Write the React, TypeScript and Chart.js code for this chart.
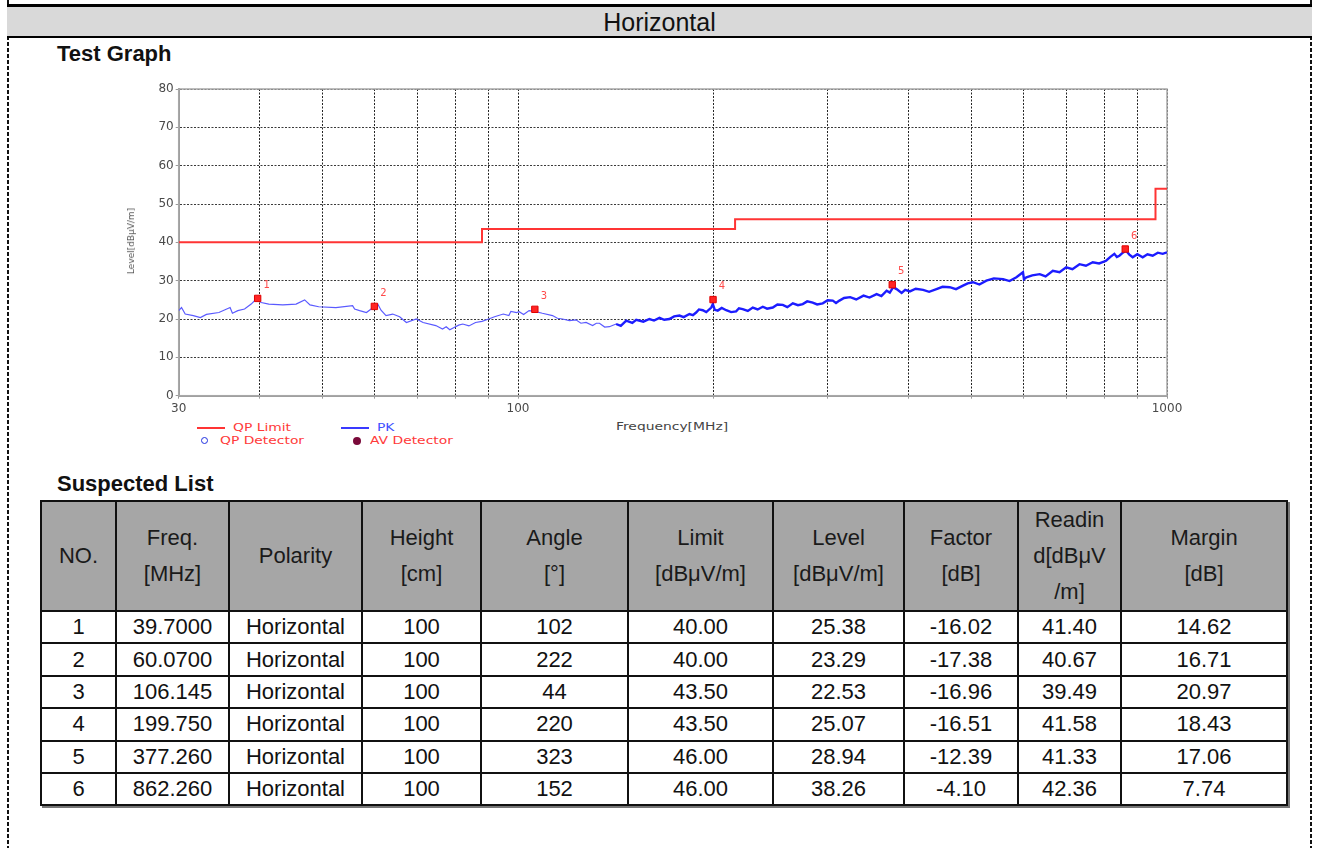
import React, { useEffect, useRef } from 'react';
import { Chart, registerables } from 'chart.js';

Chart.register(...registerables);

// ---------- chart data ----------
const pkFreq = [
  30.0, 30.3, 30.7, 31.6, 32.4, 33.1, 34.6, 36.0, 36.3, 37.0, 37.9, 38.8, 39.5, 40.2, 41.3, 43.4, 45.5, 46.9, 47.8, 49.3,
  52.4, 55.6, 56.0, 57.0, 58.4, 59.8, 60.8, 61.5, 62.6, 64.1, 65.7, 67.3, 69.7, 71.4, 74.7, 76.5, 77.5, 78.5, 79.7, 81.0,
  82.2, 84.0, 86.0, 88.0, 90.1, 92.0, 94.9, 96.8, 97.5, 99.5, 100.4, 102.0, 104.0, 106.1, 109.0, 113.0, 115.0, 117.1, 120.0, 122.8,
  125.0, 127.3, 130.3, 132.0, 133.5, 136.0, 138.3, 141.6, 144.0, 146.8, 150.0, 152.1, 156.0, 159.4, 162.0, 165.2, 168.0, 171.1, 174.0, 177.3,
  180.0, 183.7, 186.0, 188.1, 190.0, 192.6, 195.0, 198.5, 199.6, 201.0, 203.1, 206.0, 209.3, 213.0, 216.8, 219.0, 221.9, 226.0, 230.0, 234.0,
  238.3, 242.0, 246.9, 251.0, 255.8, 260.0, 265.1, 270.0, 274.6, 279.0, 284.5, 289.0, 294.8, 300.0, 305.5, 309.0, 312.8, 318.0, 324.9, 332.0,
  340.7, 348.0, 356.9, 363.0, 369.8, 374.0, 378.6, 383.1, 390.0, 395.0, 401.6, 410.0, 420.9, 430.0, 441.3, 451.0, 462.6, 473.0, 484.9, 493.0,
  502.4, 514.0, 526.8, 541.0, 559.0, 572.0, 586.1, 599.9, 602.0, 607.2, 620.0, 636.6, 650.0, 666.9, 683.0, 699.3, 715.0, 733.1, 750.0, 768.4,
  786.0, 805.6, 818.0, 829.7, 837.0, 844.6, 855.0, 864.9, 875.0, 885.4, 900.0, 917.4, 933.0, 950.5, 968.0, 985.0, 1000.0,
];
const pkLevel = [
  22.2, 23.0, 21.3, 20.9, 20.4, 21.2, 21.7, 23.0, 21.5, 22.2, 22.6, 23.9, 25.2, 24.3, 23.9, 23.7, 23.9, 25.0, 23.7, 23.2,
  23.0, 23.5, 22.6, 22.2, 21.7, 23.0, 23.9, 22.3, 20.9, 21.3, 20.6, 19.1, 20.0, 19.1, 18.3, 17.4, 18.0, 17.2, 17.8, 18.4,
  18.7, 18.2, 19.1, 19.4, 20.0, 20.6, 21.3, 20.9, 22.0, 21.7, 21.9, 21.2, 22.2, 22.0, 21.5, 20.9, 20.2, 20.0, 19.6, 19.8,
  18.9, 19.1, 18.3, 18.9, 18.9, 17.9, 18.0, 18.7, 18.2, 19.6, 19.0, 19.8, 19.3, 20.0, 19.6, 20.3, 19.8, 20.0, 20.7, 20.9,
  20.5, 21.3, 21.0, 21.7, 22.5, 22.3, 21.8, 23.0, 23.9, 22.4, 22.2, 22.9, 22.3, 21.8, 22.0, 22.8, 22.6, 22.1, 23.0, 22.5,
  23.2, 22.7, 23.0, 23.8, 23.7, 23.1, 24.1, 23.6, 23.9, 24.6, 24.3, 23.8, 24.1, 24.9, 24.8, 24.2, 24.8, 25.5, 25.7, 25.1,
  26.1, 25.6, 26.5, 26.0, 27.4, 26.9, 28.3, 27.8, 26.8, 27.6, 27.2, 27.9, 27.6, 27.1, 27.8, 28.4, 28.3, 27.8, 28.7, 29.3,
  29.6, 29.0, 30.0, 30.6, 30.4, 29.9, 30.9, 32.2, 30.4, 30.9, 31.4, 31.7, 31.1, 32.6, 32.2, 33.5, 33.0, 34.3, 33.9, 34.8,
  34.5, 35.2, 36.2, 37.0, 36.2, 36.5, 37.3, 37.8, 36.8, 36.1, 36.9, 36.1, 36.9, 36.5, 37.3, 37.0, 37.4,
];
const limitFreq = [30, 88, 88, 216, 216, 960, 960, 1000];
const limitLevel = [40, 40, 43.5, 43.5, 46, 46, 54, 54];
const markerNo = [1, 2, 3, 4, 5, 6];
const markerFreq = [39.7, 60.07, 106.145, 199.75, 377.26, 862.26];
const markerLevel = [25.38, 23.29, 22.53, 25.07, 28.94, 38.26];
const gridFreqs = [30, 40, 50, 60, 70, 80, 90, 100, 200, 300, 400, 500, 600, 700, 800, 900, 1000];
const xLabelFreqs = [30, 100, 1000];
const yMin = 0;
const yMax = 80;
const yStep = 10;

// ---------- table data ----------
const tableHeaders = [
  ['NO.'],
  ['Freq.', '[MHz]'],
  ['Polarity'],
  ['Height', '[cm]'],
  ['Angle', '[°]'],
  ['Limit', '[dBμV/m]'],
  ['Level', '[dBμV/m]'],
  ['Factor', '[dB]'],
  ['Readin', 'd[dBμV', '/m]'],
  ['Margin', '[dB]'],
];
const rowNo = ['1', '2', '3', '4', '5', '6'];
const rowFreq = ['39.7000', '60.0700', '106.145', '199.750', '377.260', '862.260'];
const rowPolarity = ['Horizontal', 'Horizontal', 'Horizontal', 'Horizontal', 'Horizontal', 'Horizontal'];
const rowHeight = ['100', '100', '100', '100', '100', '100'];
const rowAngle = ['102', '222', '44', '220', '323', '152'];
const rowLimit = ['40.00', '40.00', '43.50', '43.50', '46.00', '46.00'];
const rowLevel = ['25.38', '23.29', '22.53', '25.07', '28.94', '38.26'];
const rowFactor = ['-16.02', '-17.38', '-16.96', '-16.51', '-12.39', '-4.10'];
const rowReading = ['41.40', '40.67', '39.49', '41.58', '41.33', '42.36'];
const rowMargin = ['14.62', '16.71', '20.97', '18.43', '17.06', '7.74'];
const colWidths = [75, 113, 133, 119, 147, 145, 131, 114, 103, 166];

const ARIAL = "'Liberation Sans', Arial, sans-serif";
const DEJAVU = "'DejaVu Sans', sans-serif";

const framePlugin = {
  id: 'frame',
  beforeDatasetsDraw(chart: any) {
    const { ctx, chartArea } = chart;
    ctx.save();
    ctx.strokeStyle = '#a8a8a8';
    ctx.lineWidth = 1.5;
    ctx.strokeRect(chartArea.left, chartArea.top, chartArea.right - chartArea.left, chartArea.bottom - chartArea.top);
    ctx.restore();
  },
};

const markerLabelPlugin = {
  id: 'markerLabels',
  afterDatasetsDraw(chart: any) {
    const { ctx } = chart;
    const xs = chart.scales.x;
    const ys = chart.scales.y;
    ctx.save();
    ctx.fillStyle = '#ff4a4a';
    ctx.font = `10px ${DEJAVU}`;
    ctx.textAlign = 'center';
    ctx.textBaseline = 'middle';
    markerNo.forEach((n, i) => {
      const x = xs.getPixelForValue(markerFreq[i]);
      const y = ys.getPixelForValue(markerLevel[i]);
      ctx.fillText(String(n), x + 9, y - 13);
    });
    ctx.restore();
  },
};

function EmcChart() {
  const ref = useRef<HTMLCanvasElement | null>(null);
  useEffect(() => {
    if (!ref.current) return;
    const chart = new Chart(ref.current, {
      type: 'line',
      data: {
        datasets: [
          {
            label: 'QP Detector',
            data: markerFreq.map((f, i) => ({ x: f, y: markerLevel[i] })),
            showLine: false,
            pointStyle: 'rect',
            pointRadius: 4.5,
            backgroundColor: '#ff2424',
            borderColor: '#e00000',
            borderWidth: 1,
            order: 0,
          },
          {
            label: 'PK',
            data: pkFreq.map((f, i) => ({ x: f, y: pkLevel[i] })),
            borderColor: '#2a2aff',
            borderWidth: 1.2,
            pointRadius: 0,
            tension: 0,
            fill: false,
            segment: {
              borderWidth: (c: any) => (c.p0.parsed.x > 140 ? 2.4 : 1.2),
              borderColor: (c: any) => (c.p0.parsed.x > 140 ? '#1c1cff' : '#5a5aff'),
            },
            order: 1,
          },
          {
            label: 'QP Limit',
            data: limitFreq.map((f, i) => ({ x: f, y: limitLevel[i] })),
            borderColor: '#ff3434',
            borderWidth: 2,
            pointRadius: 0,
            tension: 0,
            fill: false,
            order: 2,
          },
        ],
      } as any,
      options: {
        animation: false,
        responsive: false,
        maintainAspectRatio: false,
        layout: { padding: { left: 48.7, right: 33, top: 19, bottom: 2.3 } },
        plugins: { legend: { display: false }, tooltip: { enabled: false } },
        scales: {
          x: {
            type: 'logarithmic',
            min: 30,
            max: 1000,
            afterBuildTicks: (s: any) => {
              s.ticks = gridFreqs.map((v) => ({ value: v }));
            },
            afterFit: (s: any) => {
              s.height = 22;
            },
            ticks: {
              autoSkip: false,
              maxRotation: 0,
              minRotation: 0,
              padding: 3,
              color: '#4a4a4a',
              font: { family: DEJAVU, size: 12 },
              callback: (v: any) => (xLabelFreqs.includes(Number(v)) ? String(v) : ''),
            },
            grid: { color: '#222', lineWidth: 1, tickLength: 3, tickColor: '#999' },
            border: { display: true, color: '#9a9a9a', width: 2, dash: [2, 1.5] },
          },
          y: {
            type: 'linear',
            min: yMin,
            max: yMax,
            afterFit: (s: any) => {
              s.width = 30;
            },
            ticks: {
              stepSize: yStep,
              padding: 2,
              color: '#4a4a4a',
              font: { family: DEJAVU, size: 12 },
            },
            grid: { color: '#3a3a3a', lineWidth: 1, tickLength: 3, tickColor: '#999' },
            border: { display: true, color: '#9a9a9a', width: 2, dash: [2, 1.5] },
          },
        },
      } as any,
      plugins: [framePlugin, markerLabelPlugin],
    });
    return () => chart.destroy();
  }, []);
  return (
    <canvas
      ref={ref}
      width={1100}
      height={350}
      style={{ position: 'absolute', left: 100, top: 70, width: 1100, height: 350 }}
    />
  );
}

const stretch = (extra: React.CSSProperties = {}): React.CSSProperties => ({
  position: 'absolute',
  fontFamily: DEJAVU,
  fontSize: 11,
  lineHeight: '12px',
  whiteSpace: 'nowrap',
  transform: 'scaleX(1.26)',
  transformOrigin: 'left center',
  ...extra,
});

export default function App() {
  const cell: React.CSSProperties = {
    border: '2px solid #111',
    padding: 0,
    textAlign: 'center',
    verticalAlign: 'middle',
  };
  const rows = rowNo.map((n, i) => [
    n,
    rowFreq[i],
    rowPolarity[i],
    rowHeight[i],
    rowAngle[i],
    rowLimit[i],
    rowLevel[i],
    rowFactor[i],
    rowReading[i],
    rowMargin[i],
  ]);
  return (
    <div
      style={{
        position: 'absolute',
        left: 0,
        top: 0,
        width: 1318,
        height: 848,
        background: '#fff',
        fontFamily: ARIAL,
        color: '#111',
        overflow: 'hidden',
      }}
    >
      {/* dashed page borders */}
      <div
        style={{
          position: 'absolute',
          left: 7,
          top: 0,
          width: 2,
          height: 848,
          background: 'repeating-linear-gradient(to bottom, #111 0px, #111 4px, transparent 4px, transparent 6px)',
        }}
      />
      <div
        style={{
          position: 'absolute',
          left: 1310,
          top: 0,
          width: 2,
          height: 848,
          background: 'repeating-linear-gradient(to bottom, #111 0px, #111 4px, transparent 4px, transparent 6px)',
        }}
      />
      {/* header */}
      <div
        style={{
          position: 'absolute',
          left: 7,
          top: 4,
          width: 1305,
          height: 34,
          boxSizing: 'border-box',
          borderTop: '3px solid #000',
          borderBottom: '2px solid #000',
          background: '#d9d9d9',
          display: 'flex',
          alignItems: 'center',
          justifyContent: 'center',
          fontSize: 25,
          lineHeight: '28px',
          color: '#111',
        }}
      >
        Horizontal
      </div>
      <div style={{ position: 'absolute', left: 57, top: 42, fontSize: 22, fontWeight: 'bold', lineHeight: '24px' }}>
        Test Graph
      </div>

      <EmcChart />

      {/* y axis title */}
      <div
        style={{
          position: 'absolute',
          left: 131,
          top: 241,
          transform: 'translate(-50%, -50%) rotate(-90deg)',
          fontFamily: DEJAVU,
          fontSize: 9,
          lineHeight: '10px',
          color: '#555',
          whiteSpace: 'nowrap',
        }}
      >
        Level[dBμV/m]
      </div>

      {/* legend */}
      <div style={{ position: 'absolute', left: 197, top: 427, width: 28, height: 2, background: '#ff3434' }} />
      <div style={stretch({ left: 233, top: 422, color: '#ff3a3a' })}>QP Limit</div>
      <div style={{ position: 'absolute', left: 341, top: 427, width: 28, height: 2, background: '#3a3aff' }} />
      <div style={stretch({ left: 377, top: 422, color: '#4050ff' })}>PK</div>
      <div
        style={{
          position: 'absolute',
          left: 201,
          top: 437,
          width: 5,
          height: 5,
          borderRadius: '50%',
          border: '1.5px solid #2030e0',
        }}
      />
      <div style={stretch({ left: 220, top: 435, color: '#ff3a3a' })}>QP Detector</div>
      <div
        style={{ position: 'absolute', left: 353, top: 437, width: 8, height: 8, borderRadius: '50%', background: '#7a0a3a' }}
      />
      <div style={stretch({ left: 370, top: 435, color: '#ff3a3a' })}>AV Detector</div>
      <div style={stretch({ left: 616, top: 421, color: '#444' })}>Frequency[MHz]</div>

      <div style={{ position: 'absolute', left: 57, top: 472, fontSize: 22, fontWeight: 'bold', lineHeight: '24px' }}>
        Suspected List
      </div>

      <table
        style={{
          position: 'absolute',
          left: 40,
          top: 500,
          width: 1248,
          borderCollapse: 'collapse',
          tableLayout: 'fixed',
          fontFamily: ARIAL,
          fontSize: 22,
          color: '#111',
          boxShadow: '2px 2px 0 #777',
        }}
      >
        <colgroup>
          {colWidths.map((w, i) => (
            <col key={i} style={{ width: w }} />
          ))}
        </colgroup>
        <thead>
          <tr style={{ height: 109 }}>
            {tableHeaders.map((h, i) => (
              <th
                key={i}
                style={{ ...cell, background: '#a6a6a6', fontWeight: 'normal', lineHeight: '36px', color: '#1a1a1a' }}
              >
                {h.map((line, j) => (
                  <div key={j}>{line}</div>
                ))}
              </th>
            ))}
          </tr>
        </thead>
        <tbody>
          {rows.map((r, i) => (
            <tr key={i} style={{ height: 32.4 }}>
              {r.map((v, j) => (
                <td key={j} style={{ ...cell, lineHeight: '28px' }}>
                  {v}
                </td>
              ))}
            </tr>
          ))}
        </tbody>
      </table>
    </div>
  );
}
